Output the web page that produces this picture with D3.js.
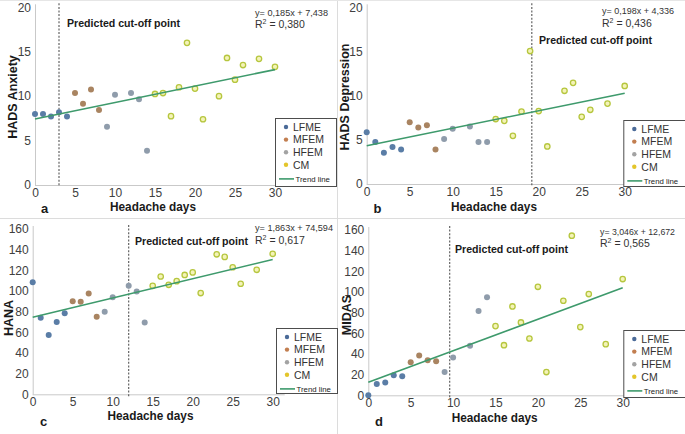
<!DOCTYPE html>
<html><head><meta charset="utf-8">
<script src="https://cdn.jsdelivr.net/npm/d3@7"></script>
<style>
html,body{margin:0;padding:0;background:#fff;}
svg{display:block;font-family:"Liberation Sans",Arial,sans-serif;}
</style></head>
<body>
<svg id="chart" width="685" height="434"></svg>
<script>
// ---------- DATA ----------
const groups = ["LFME", "MFEM", "HFEM", "CM"];
const daysLFME = [0, 1, 2, 3, 4];
const daysMFEM = [5, 6, 7, 8];
const daysHFEM = [9, 10, 12, 13, 14];
const daysCM = [15, 16, 17, 18, 19, 20, 21, 23, 24, 25, 26, 28, 30];

const anxietyLFME = [8.0, 8.0, 7.7, 8.2, 7.7];
const anxietyMFEM = [10.35, 9.15, 10.75, 8.45];
const anxietyHFEM = [6.55, 10.15, 10.35, 9.65, 3.85];
const anxietyCM = [10.25, 10.35, 7.75, 11.0, 16.0, 10.85, 7.4, 10.0, 14.3, 11.85, 13.5, 14.2, 13.3];

const depressionLFME = [5.85, 4.75, 3.55, 4.2, 3.9];
const depressionMFEM = [7.0, 6.4, 6.65, 3.9];
const depressionHFEM = [5.1, 6.25, 6.5, 4.75, 4.75];
const depressionCM = [7.35, 7.15, 5.45, 8.2, 15.05, 8.25, 4.25, 10.55, 11.45, 7.6, 8.4, 9.1, 11.1];

const hanaLFME = [108.5, 74, 57.5, 70, 78.5];
const hanaMFEM = [90, 89.5, 97.5, 75];
const hanaHFEM = [80, 94, 105, 99.5, 69.5];
const hanaCM = [105, 114, 106, 109.5, 115.5, 118, 98, 135.5, 133, 123, 107, 120.5, 136];

const midasLFME = [0, 11, 12.5, 19.5, 18.5];
const midasMFEM = [32, 38.5, 34, 33];
const midasHFEM = [22.5, 36.5, 48, 81.5, 95];
const midasCM = [67, 48.5, 86, 70.5, 55, 105, 22.5, 91.5, 154.5, 66, 98, 49.5, 112.5];

const panelLetters = ["a", "b", "c", "d"];
const yTitles = ["HADS Anxiety", "HADS Depression", "HANA", "MIDAS"];
const slopes = [0.185, 0.198, 1.863, 3.046];
const intercepts = [7.438, 4.336, 74.594, 12.672];
const equations = ["y= 0,185x + 7,438", "y= 0,198x + 4,336", "y= 1,863x + 74,594", "y= 3,046x + 12,672"];
const r2Values = ["0,380", "0,436", "0,617", "0,565"];
const cutoffs = [3, 19.2, 12, 9.6];
const xTicks = [0, 5, 10, 15, 20, 25, 30];
const yTicksHads = [0, 5, 10, 15, 20];
const yTicksScore = [0, 20, 40, 60, 80, 100, 120, 140, 160];
const xTitle = "Headache days";
const cutoffLabel = "Predicted cut-off point";

// ---------- STYLE / LAYOUT ----------
const groupColor = {LFME: "#5a7da6", MFEM: "#a98461", HFEM: "#8f9cab", CM: "#b6c63e"};
const legendColor = {LFME: "#4a6a98", MFEM: "#c27e50", HFEM: "#a3a3a3", CM: "#e3c52a"};
const trendColor = "#3e9a6c";

const layouts = [
  {x0: 35, x30: 275, y0: 185, yTop: 7.3, yMax: 20, ticks: yTicksHads,
   eq: [255, 15.5, 73], r2: [255, 28], cut: [67, 27], yt: [12.5, 97], xt: [153, 210.7], let: [44.5, 213],
   leg: [275, 118, 61, 68]},
  {x0: 366.7, x30: 624.7, y0: 184, yTop: 7.3, yMax: 20, ticks: yTicksHads,
   eq: [602, 14, 72], r2: [602, 26.5], cut: [539, 44], yt: [345, 97], xt: [494, 210.7], let: [377.5, 213],
   leg: [623.3, 120, 62, 66]},
  {x0: 32.7, x30: 272.7, y0: 394.3, yTop: 229, yMax: 160, ticks: yTicksScore,
   eq: [255, 231, 78], r2: [255, 244], cut: [135, 244.5], yt: [9, 318], xt: [150.5, 420], let: [43.5, 425.5],
   leg: [276, 328, 61, 65]},
  {x0: 368.3, x30: 622.7, y0: 395.3, yTop: 230, yMax: 160, ticks: yTicksScore,
   eq: [600, 234.5, 75], r2: [600, 246.5], cut: [455, 253], yt: [346.5, 315], xt: [494.7, 422], let: [379, 425.5],
   leg: [623.3, 330, 62, 67]}
];

const panelData = [
  [anxietyLFME, anxietyMFEM, anxietyHFEM, anxietyCM],
  [depressionLFME, depressionMFEM, depressionHFEM, depressionCM],
  [hanaLFME, hanaMFEM, hanaHFEM, hanaCM],
  [midasLFME, midasMFEM, midasHFEM, midasCM]
];
const groupDays = [daysLFME, daysMFEM, daysHFEM, daysCM];

const svg = d3.select("#chart");

// panel dividers
svg.append("line").attr("x1", 337.5).attr("x2", 337.5).attr("y1", 0).attr("y2", 434)
  .attr("stroke", "#dcdcdc").attr("stroke-width", 1);
svg.append("line").attr("x1", 0).attr("x2", 685).attr("y1", 218.5).attr("y2", 218.5)
  .attr("stroke", "#dcdcdc").attr("stroke-width", 1);
svg.append("line").attr("x1", 0).attr("x2", 685).attr("y1", 0.5).attr("y2", 0.5)
  .attr("stroke", "#e6e6e6").attr("stroke-width", 1);

layouts.forEach((L, i) => {
  const g = svg.append("g");
  const x = d3.scaleLinear().domain([0, 30]).range([L.x0, L.x30]);
  const y = d3.scaleLinear().domain([0, L.yMax]).range([L.y0, L.yTop]);

  // y axis
  const ya = g.append("g").attr("transform", `translate(${L.x0},0)`)
    .call(d3.axisLeft(y).tickValues(L.ticks).tickSize(0).tickPadding(4).tickSizeOuter(0));
  ya.select(".domain").attr("stroke", "#c9c9c9").attr("d", `M0.5,${L.yTop - 3}V${L.y0 + 0.5}`);
  ya.selectAll("text").attr("font-size", 12).attr("fill", "#404040")
    .attr("font-family", "'Liberation Sans',Arial,sans-serif");

  // x axis
  const xa = g.append("g").attr("transform", `translate(0,${L.y0})`)
    .call(d3.axisBottom(x).tickValues(xTicks).tickSize(0).tickPadding(3).tickSizeOuter(0));
  xa.select(".domain").attr("stroke", "#c9c9c9").attr("d", `M${L.x0},0.5H${x(31.5)}`);
  xa.selectAll("text").attr("font-size", 12).attr("fill", "#404040")
    .attr("font-family", "'Liberation Sans',Arial,sans-serif");

  // cut-off line
  g.append("line").attr("x1", x(cutoffs[i])).attr("x2", x(cutoffs[i]))
    .attr("y1", L.yTop - 4).attr("y2", L.y0 + 2)
    .attr("stroke", "#555").attr("stroke-width", 1.1).attr("stroke-dasharray", "2,1.6");

  // points
  groups.forEach((grp, gi) => {
    const vals = panelData[i][gi];
    const pts = groupDays[gi].map((d, k) => ({d: d, v: vals[k]}));
    g.selectAll(null).data(pts).enter().append("circle")
      .attr("cx", p => x(p.d)).attr("cy", p => y(p.v))
      .attr("r", grp === "CM" ? 2.7 : 3)
      .attr("fill", grp === "CM" ? "#f4f3b8" : groupColor[grp])
      .attr("stroke", grp === "CM" ? groupColor.CM : "none")
      .attr("stroke-width", grp === "CM" ? 1.3 : 0);
  });

  // trend line
  const line = d3.line().x(d => x(d)).y(d => y(slopes[i] * d + intercepts[i]));
  g.append("path").datum([0, 30]).attr("d", line)
    .attr("fill", "none").attr("stroke", trendColor).attr("stroke-width", 1.6);

  // equation & R2
  g.append("text").attr("x", L.eq[0]).attr("y", L.eq[1]).attr("font-size", 9.4).attr("fill", "#333")
    .attr("textLength", L.eq[2]).attr("lengthAdjust", "spacingAndGlyphs")
    .text(equations[i]);
  const r2 = g.append("text").attr("x", L.r2[0]).attr("y", L.r2[1]).attr("font-size", 10.5).attr("fill", "#333");
  r2.append("tspan").text("R");
  r2.append("tspan").attr("dy", -4).attr("font-size", 7).text("2");
  r2.append("tspan").attr("dy", 4).text(" = " + r2Values[i]);

  // cut-off label
  g.append("text").attr("x", L.cut[0]).attr("y", L.cut[1]).attr("font-size", 10.6)
    .attr("font-weight", "bold").attr("fill", "#1a1a1a")
    .attr("textLength", 113).attr("lengthAdjust", "spacingAndGlyphs").text(cutoffLabel);

  // axis titles
  g.append("text").attr("transform", `translate(${L.yt[0]},${L.yt[1]}) rotate(-90)`)
    .attr("text-anchor", "middle").attr("dy", "0.35em").attr("font-size", 12.5).attr("font-weight", "bold")
    .attr("fill", "#1a1a1a").text(yTitles[i]);
  g.append("text").attr("x", L.xt[0]).attr("y", L.xt[1]).attr("text-anchor", "middle")
    .attr("font-size", 12.2).attr("font-weight", "bold").attr("fill", "#1a1a1a")
    .attr("textLength", 86).attr("lengthAdjust", "spacingAndGlyphs").text(xTitle);
  g.append("text").attr("x", L.let[0]).attr("y", L.let[1]).attr("text-anchor", "middle")
    .attr("font-size", 13).attr("font-weight", "bold").attr("fill", "#1a1a1a").text(panelLetters[i]);

  // legend
  const [lx, ly, lw, lh] = L.leg;
  const lg = g.append("g");
  lg.append("rect").attr("x", lx + 0.5).attr("y", ly + 0.5).attr("width", lw).attr("height", lh)
    .attr("fill", "#fff").attr("stroke", "#4d4d4d").attr("stroke-width", 1);
  groups.forEach((grp, gi) => {
    const cy = ly + 9 + gi * 12.6;
    lg.append("circle").attr("cx", lx + 11).attr("cy", cy).attr("r", 2.2).attr("fill", legendColor[grp]);
    lg.append("text").attr("x", lx + 18).attr("y", cy).attr("dy", "0.36em")
      .attr("font-size", 10.5).attr("fill", "#333").text(grp);
  });
  const ty = ly + 9 + 4 * 12.6 + 1.5;
  lg.append("line").attr("x1", lx + 4).attr("x2", lx + 19).attr("y1", ty).attr("y2", ty)
    .attr("stroke", trendColor).attr("stroke-width", 1.6);
  lg.append("text").attr("x", lx + 20.5).attr("y", ty).attr("dy", "0.35em")
    .attr("font-size", 7.8).attr("fill", "#222").text("Trend line");
});
</script>
</body></html>
